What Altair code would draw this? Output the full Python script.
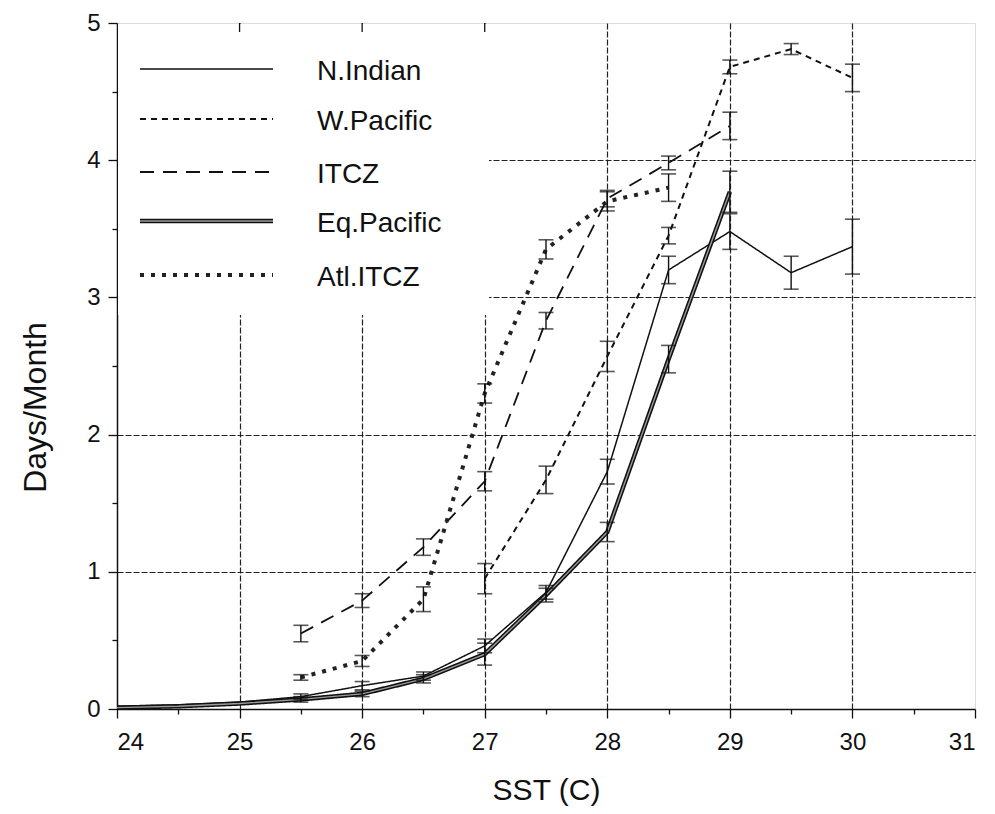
import altair as alt
import pandas as pd

# ---------------- data ----------------
series_names = ["N.Indian", "W.Pacific", "ITCZ", "Eq.Pacific", "Atl.ITCZ"]

nind_x = [24, 24.5, 25, 25.5, 26, 26.5, 27, 27.5, 28, 28.5, 29, 29.5, 30]
nind_y = [0.02, 0.03, 0.05, 0.09, 0.17, 0.24, 0.46, 0.85, 1.73, 3.2, 3.48, 3.18, 3.37]
nind_e = [0, 0, 0, 0.02, 0.03, 0.03, 0.05, 0.05, 0.09, 0.1, 0.13, 0.12, 0.2]

wpac_x = [27, 27.5, 28, 28.5, 29, 29.5, 30]
wpac_y = [0.95, 1.67, 2.57, 3.45, 4.68, 4.81, 4.6]
wpac_e = [0.11, 0.1, 0.11, 0.06, 0.05, 0.04, 0.1]

itcz_x = [25.5, 26, 26.5, 27, 27.5, 28, 28.5, 29]
itcz_y = [0.55, 0.79, 1.18, 1.66, 2.83, 3.72, 3.98, 4.25]
itcz_e = [0.06, 0.05, 0.06, 0.07, 0.06, 0.06, 0.05, 0.1]

eqp_x = [24, 24.5, 25, 25.5, 26, 26.5, 27, 27.5, 28, 28.5, 29]
eqp_y = [0.01, 0.02, 0.04, 0.07, 0.11, 0.22, 0.4, 0.83, 1.29, 2.55, 3.77]
eqp_e = [0, 0, 0, 0.02, 0.02, 0.03, 0.08, 0.05, 0.07, 0.1, 0.15]

atl_x = [25.5, 26, 26.5, 27, 27.5, 28, 28.5]
atl_y = [0.23, 0.35, 0.8, 2.3, 3.35, 3.7, 3.8]
atl_e = [0.02, 0.04, 0.09, 0.07, 0.07, 0.07, 0.1]

top_tick_x = [25, 26, 27]

# ---------------- table ----------------
rows = []
for name, xs, ys, es in [
    ("N.Indian", nind_x, nind_y, nind_e),
    ("W.Pacific", wpac_x, wpac_y, wpac_e),
    ("ITCZ", itcz_x, itcz_y, itcz_e),
    ("Eq.Pacific", eqp_x, eqp_y, eqp_e),
    ("Atl.ITCZ", atl_x, atl_y, atl_e),
]:
    for x, y, e in zip(xs, ys, es):
        rows.append({"series": name, "sst": x, "days": y, "lo": y - e, "hi": y + e, "err": e})
df = pd.DataFrame(rows)

# ---------------- styles ----------------
styles = {
    "N.Indian": dict(strokeWidth=1.5, strokeDash=[1, 0], color="#111"),
    "W.Pacific": dict(strokeWidth=2, strokeDash=[6, 5], color="#111"),
    "ITCZ": dict(strokeWidth=1.8, strokeDash=[14, 9], color="#111"),
    "Eq.Pacific": dict(strokeWidth=4.5, strokeDash=[1, 0], color="#111"),
    "Atl.ITCZ": dict(strokeWidth=4, strokeDash=[4, 7], color="#222"),
}

W, H = 858, 686
FONT = "Liberation Sans"

xscale = alt.Scale(domain=[24, 31], nice=False, zero=False)
yscale = alt.Scale(domain=[0, 5], nice=False, zero=False)

int_test = "datum.value % 1 === 0"
xaxis = alt.Axis(
    values=[24 + 0.5 * i for i in range(15)],
    labelExpr=f"{int_test} ? format(datum.value, 'd') : ''",
    tickSize={"condition": {"test": int_test, "value": 9}, "value": 5},
    tickColor="#111", tickWidth=1.3,
    grid=True,
    gridOpacity={"condition": {"test": f"{int_test} && datum.value > 24 && datum.value < 31", "value": 1}, "value": 0},
    gridColor="#222", gridWidth=1.2, gridDash=[6, 2],
    domainColor="#111", domainWidth=1.5,
    labelFont=FONT, labelFontSize=24, labelColor="#111", labelPadding=12,
    titleFont=FONT, titleFontSize=30, titleFontWeight="normal", titleColor="#111",
    titleY=81, titleBaseline="middle",
)
yaxis = alt.Axis(
    values=[0.5 * i for i in range(11)],
    labelExpr=f"{int_test} ? format(datum.value, 'd') : ''",
    tickSize={"condition": {"test": int_test, "value": 9}, "value": 5},
    tickColor="#111", tickWidth=1.3,
    grid=True,
    gridOpacity={"condition": {"test": f"{int_test} && datum.value > 0 && datum.value < 5", "value": 1}, "value": 0},
    gridColor="#222", gridWidth=1.2, gridDash=[6, 2],
    domainColor="#111", domainWidth=1.5,
    labelFont=FONT, labelFontSize=24, labelColor="#111", labelPadding=8,
    titleFont=FONT, titleFontSize=32, titleFontWeight="normal", titleColor="#111",
    titleX=-82, titleY=384, titleAngle=-90, titleAlign="center", titleBaseline="middle",
)

X = alt.X("sst:Q", scale=xscale, axis=xaxis, title="SST (C)")
Y = alt.Y("days:Q", scale=yscale, axis=yaxis, title="Days/Month")

base = alt.Chart(df)

layers = []

# blank area behind the legend (grid is not drawn there in the original)
blank = alt.Chart(alt.Data(values=[{"k": 1}])).mark_rect(fill="white").encode(
    x=alt.value(1), x2=alt.value(372), y=alt.value(1), y2=alt.value(292)
)
layers.append(blank)

# small inner ticks on the top frame
top_ticks = alt.Chart(pd.DataFrame({"sst": top_tick_x})).mark_rule(color="#111", strokeWidth=1.3).encode(
    x=alt.X("sst:Q", scale=xscale, axis=xaxis, title="SST (C)"),
    y=alt.value(0), y2=alt.value(9),
)
layers.append(top_ticks)

# series lines
for name in series_names:
    st = styles[name]
    ln = base.transform_filter(alt.datum.series == name).mark_line(
        color=st["color"], strokeWidth=st["strokeWidth"], strokeDash=st["strokeDash"], strokeCap="butt"
    ).encode(x=X, y=Y, order="sst:Q")
    layers.append(ln)
    if name == "Eq.Pacific":
        inner = base.transform_filter(alt.datum.series == name).mark_line(
            color="#9a9a9a", strokeWidth=1.4
        ).encode(x=X, y=Y, order="sst:Q")
        layers.append(inner)

# error bars
eb = base.transform_filter(alt.datum.err > 0)
layers.append(eb.mark_rule(color="#111", strokeWidth=1.4).encode(
    x=X, y=alt.Y("lo:Q", scale=yscale, axis=yaxis, title="Days/Month"), y2="hi:Q"))
layers.append(eb.mark_tick(color="#111", orient="horizontal", size=15, thickness=1.6).encode(
    x=X, y=alt.Y("lo:Q", scale=yscale, axis=yaxis, title="Days/Month")))
layers.append(eb.mark_tick(color="#111", orient="horizontal", size=15, thickness=1.6).encode(
    x=X, y=alt.Y("hi:Q", scale=yscale, axis=yaxis, title="Days/Month")))

# legend (drawn inside the plot area, top-left)
leg_rows_y = [46, 96, 149, 198, 252]
for name, ly in zip(series_names, leg_rows_y):
    st = styles[name]
    d = alt.Data(values=[{"label": name}])
    layers.append(alt.Chart(d).mark_rule(
        color=st["color"], strokeWidth=st["strokeWidth"], strokeDash=st["strokeDash"], strokeCap="butt"
    ).encode(x=alt.value(23), x2=alt.value(156), y=alt.value(ly)))
    if name == "Eq.Pacific":
        layers.append(alt.Chart(d).mark_rule(color="#9a9a9a", strokeWidth=1.4).encode(
            x=alt.value(23), x2=alt.value(156), y=alt.value(ly)))
    layers.append(alt.Chart(d).mark_text(
        font=FONT, fontSize=28, color="#111", align="left", baseline="middle"
    ).encode(text="label:N", x=alt.value(200), y=alt.value(ly + 3)))

chart = alt.layer(*layers).properties(
    width=W, height=H,
    autosize=alt.AutoSizeParams(type="none"),
    padding={"left": 109, "top": 15, "right": 12, "bottom": 97},
).configure_view(stroke="#111", strokeWidth=1.5).configure(background="white")

chart.save("out.html", embed_options={"renderer": "svg", "actions": False})
